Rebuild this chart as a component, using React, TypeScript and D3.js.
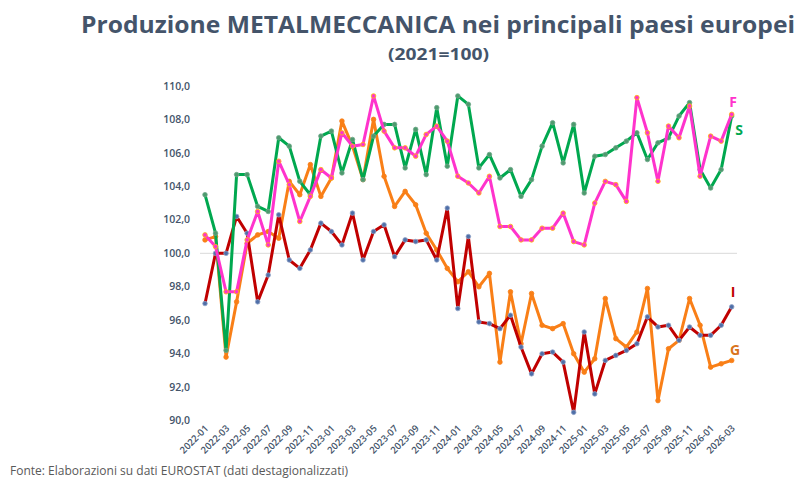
import React from "react";
import * as d3 from "d3";

const months: string[] = [];
for (let y = 2022; y <= 2026; y++) {
  for (let m = 1; m <= 12; m++) {
    if (y === 2026 && m > 3) break;
    months.push(`${y}-${String(m).padStart(2, "0")}`);
  }
}

const seriesS = [103.5, 101.2, 94.2, 104.7, 104.7, 102.8, 102.5, 106.9, 106.4, 104.3, 103.5, 107.0, 107.3, 104.8, 106.8, 104.4, 107.0, 107.7, 107.7, 105.1, 107.4, 104.7, 108.7, 105.2, 109.4, 108.9, 105.1, 105.9, 104.5, 105.0, 103.4, 104.4, 106.4, 107.8, 105.4, 107.7, 103.6, 105.8, 105.9, 106.3, 106.7, 107.2, 105.6, 106.6, 106.9, 108.2, 109.0, 105.0, 103.9, 105.0, 108.2];
const seriesF = [101.1, 100.4, 97.7, 97.7, 100.8, 102.5, 100.5, 105.5, 104.1, 101.9, 103.4, 105.0, 104.5, 107.2, 106.4, 106.5, 109.4, 107.3, 106.3, 106.3, 105.8, 107.1, 107.6, 106.7, 104.6, 104.2, 103.6, 104.6, 101.6, 101.6, 100.8, 100.8, 101.5, 101.5, 102.4, 100.7, 100.5, 103.0, 104.3, 104.1, 103.1, 109.3, 107.2, 104.3, 107.6, 106.9, 108.8, 104.6, 107.0, 106.7, 108.3];
const seriesI = [97.0, 100.0, 100.0, 102.2, 101.2, 97.1, 98.7, 102.3, 99.6, 99.1, 100.2, 101.8, 101.3, 100.5, 102.4, 99.6, 101.3, 101.7, 99.8, 100.8, 100.7, 100.8, 99.6, 102.7, 96.7, 101.0, 95.9, 95.8, 95.5, 96.3, 94.4, 92.8, 94.0, 94.1, 93.5, 90.5, 95.3, 91.6, 93.6, 93.9, 94.2, 94.6, 96.2, 95.6, 95.7, 94.8, 95.6, 95.1, 95.1, 95.7, 96.8];
const seriesG = [100.8, 101.0, 93.8, 97.1, 100.6, 101.1, 101.3, 100.9, 104.3, 103.5, 105.3, 103.4, 104.5, 107.9, 106.4, 104.4, 108.0, 104.6, 102.8, 103.7, 102.9, 101.2, 100.2, 99.1, 98.3, 98.9, 98.0, 98.8, 93.5, 97.7, 94.6, 97.6, 95.7, 95.5, 95.8, 94.0, 92.9, 93.7, 97.3, 94.9, 94.4, 95.3, 97.9, 91.2, 94.3, 94.8, 97.3, 95.7, 93.2, 93.4, 93.6];

const yTicks = [90, 92, 94, 96, 98, 100, 102, 104, 106, 108, 110];
const xTickLabels = months.filter((_, i) => i % 2 === 0);

const seriesDefs = [
  { key: "G", values: seriesG, color: "#F97F17", marker: "#F97F17", markerStroke: "#F97F17", labelColor: "#D9741C", lx: 735, ly: 350 },
  { key: "I", values: seriesI, color: "#C00000", marker: "#4F6FA8", markerStroke: "#8FA3C8", labelColor: "#C00000", lx: 733, ly: 292 },
  { key: "S", values: seriesS, color: "#00A84F", marker: "#4E9A6E", markerStroke: "#6FA88A", labelColor: "#00A84F", lx: 739, ly: 130 },
  { key: "F", values: seriesF, color: "#FF33CC", marker: "#FF33CC", markerStroke: "#FFC000", labelColor: "#FF33CC", lx: 733, ly: 102 },
];

export default function App() {
  const W = 801, H = 480;
  const x = d3.scalePoint<string>().domain(months).range([205, 731.7]);
  const y = d3.scaleLinear().domain([90, 110]).range([420.7, 85.9]);
  const line = d3.line<number>().x((_, i) => x(months[i])!).y((d) => y(d));
  const font = "'Open Sans', 'Noto Sans', sans-serif";
  const fmt = (v: number) => v.toFixed(1).replace(".", ",");

  return (
    <svg width={W} height={H} style={{ position: "absolute", left: 0, top: 0, background: "#fff" }} fontFamily={font}>
      <text x={81} y={33} fontSize={24} fontWeight={700} fill="#44546A" textLength={714} lengthAdjust="spacingAndGlyphs">
        Produzione METALMECCANICA nei principali paesi europei
      </text>
      <text x={388} y={60} fontSize={16} fontWeight={700} fill="#44546A" textLength={101} lengthAdjust="spacingAndGlyphs">
        (2021=100)
      </text>

      {/* baseline at 100 */}
      <line x1={200} x2={737} y1={y(100)} y2={y(100)} stroke="#D9D9D9" strokeWidth={1} />

      {yTicks.map((t) => (
        <text key={t} x={190} y={y(t)} dy="0.35em" textAnchor="end" fontSize={10.5} fontWeight={600} fill="#44546A">
          {fmt(t)}
        </text>
      ))}

      {xTickLabels.map((m) => (
        <text
          key={m}
          transform={`translate(${x(m)! + 4},${429}) rotate(-45)`}
          textAnchor="end"
          fontSize={9.5}
          fontWeight={600}
          fill="#44546A"
        >
          {m}
        </text>
      ))}

      {seriesDefs.map((s) => (
        <g key={s.key}>
          <path d={line(s.values) || ""} fill="none" stroke={s.color} strokeWidth={3} strokeLinejoin="round" strokeLinecap="round" />
          {s.values.map((v, i) => (
            <circle key={i} cx={x(months[i])!} cy={y(v)} r={2.3} fill={s.marker} stroke={s.markerStroke} strokeWidth={0.8} />
          ))}
          <text x={s.lx} y={s.ly} dy="0.35em" textAnchor="middle" fontSize={14} fontWeight={700} fill={s.labelColor}>
            {s.key}
          </text>
        </g>
      ))}

      <text x={10} y={475} fontSize={12} fill="#595959" textLength={338} lengthAdjust="spacingAndGlyphs">
        Fonte: Elaborazioni su dati EUROSTAT (dati destagionalizzati)
      </text>
    </svg>
  );
}
